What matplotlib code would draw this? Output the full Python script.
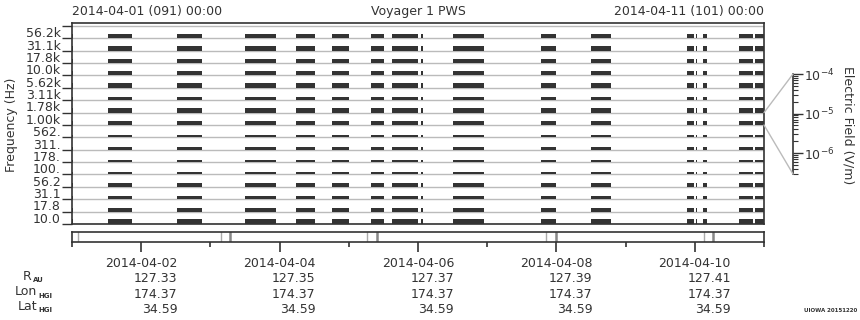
import matplotlib.pyplot as plt
import numpy as np
from matplotlib.patches import ConnectionPatch

# frequency channels, bottom to top
channels = ['10.0', '17.8', '31.1', '56.2', '100.', '178.', '311.', '562.',
            '1.00k', '1.78k', '3.11k', '5.62k', '10.0k', '17.8k', '31.1k', '56.2k']
# bar height per channel (fraction of a row)
levels = [0.40, 0.32, 0.30, 0.32, 0.22, 0.16, 0.22, 0.16,
          0.36, 0.36, 0.30, 0.36, 0.36, 0.36, 0.36, 0.36]

# data intervals, days after 2014-04-01 00:00
seg_start = [0.0, 0.52, 1.52, 2.50, 3.24, 3.76, 4.32, 4.62, 5.04, 5.51,
             6.78, 7.50, 8.89, 9.02, 9.12, 9.64, 9.87]
seg_end = [0.02, 0.87, 1.88, 2.95, 3.51, 4.00, 4.51, 5.00, 5.07, 5.95,
           6.99, 7.79, 8.99, 9.03, 9.18, 9.84, 10.0]

# marks in the bottom strip
strip_light = [0.09, 2.15, 4.26, 6.85, 9.13]
strip_dark = [2.28, 4.41, 6.99, 9.26]

tick_days = [1, 3, 5, 7, 9]
tick_dates = ['2014-04-02', '2014-04-04', '2014-04-06', '2014-04-08', '2014-04-10']
r_au = ['127.33', '127.35', '127.37', '127.39', '127.41']
lon_hgi = ['174.37', '174.37', '174.37', '174.37', '174.37']
lat_hgi = ['34.59', '34.59', '34.59', '34.59', '34.59']

W, H = 860, 320
ink = '#333333'
plt.rcParams['font.size'] = 9
plt.rcParams['text.color'] = ink
plt.rcParams['axes.edgecolor'] = ink
plt.rcParams['xtick.color'] = ink
plt.rcParams['ytick.color'] = ink

fig = plt.figure(figsize=(W / 100, H / 100), dpi=100)

def box(x0, y0, x1, y1):
    # pixel box (top-left origin) -> figure fraction rect
    return [x0 / W, 1 - y1 / H, (x1 - x0) / W, (y1 - y0) / H]

ax = fig.add_axes(box(72, 23, 764, 224))
n = len(channels)
ax.hlines(np.arange(n + 1), 0, 10, color='#bbbbbb', lw=1, zorder=1)
spans = [(s, e - s) for s, e in zip(seg_start, seg_end)]
for i in range(n):
    ax.broken_barh(spans, (i, levels[i]), facecolor=ink, edgecolor='none', zorder=2)
ax.set_xlim(0, 10)
ax.set_ylim(0, n + 3 / 12.4)
ax.set_xticks([])
ax.set_yticks(np.arange(n + 1))
ax.set_yticklabels([])
ax.set_yticks(np.arange(n) + 0.5, minor=True)
ax.set_yticklabels(channels, minor=True)
ax.tick_params(axis='y', which='major', length=7, width=1, direction='out')
ax.tick_params(axis='y', which='minor', length=0, pad=8, labelsize=9)
for sp in ax.spines.values():
    sp.set_linewidth(1.2)

fig.text(12 / W, 1 - 125 / H, 'Frequency (Hz)', rotation=90, ha='center', va='center')
fig.text(72 / W, 1 - 11 / H, '2014-04-01 (091) 00:00', ha='left', va='center')
fig.text(418 / W, 1 - 11 / H, 'Voyager 1 PWS', ha='center', va='center')
fig.text(764 / W, 1 - 11 / H, '2014-04-11 (101) 00:00', ha='right', va='center')

# bottom strip
st = fig.add_axes(box(72, 232, 764, 242))
for d in strip_light:
    st.axvline(d, color='#aaaaaa', lw=1)
for d in strip_dark:
    st.axvline(d, color='#888888', lw=1.8)
st.set_xlim(0, 10)
st.set_ylim(0, 1)
st.set_yticks([])
labels = [f'{d}\n{r}\n{lo}\n{la}' for d, r, lo, la in zip(tick_dates, r_au, lon_hgi, lat_hgi)]
st.set_xticks(tick_days, labels=labels)
st.set_xticks(np.arange(0, 11, 2), minor=True)
st.tick_params(axis='x', which='major', length=7, width=1.2, pad=4, labelsize=9)
st.tick_params(axis='x', which='minor', length=3.5, width=1.2)
for lbl in st.get_xticklabels():
    lbl.set_multialignment('right')
    lbl.set_linespacing(1.22)
for sp in st.spines.values():
    sp.set_linewidth(1.2)

# row names with tiny bold subscripts
for name, sub, xr, yb in [('R', 'AU', 32, 280), ('Lon', 'HGI', 37.5, 295), ('Lat', 'HGI', 37.5, 310)]:
    fig.text(xr / W, 1 - yb / H, name, ha='right', va='baseline')
    fig.text((xr + 1) / W, 1 - (yb + 2.5) / H, sub, ha='left', va='baseline',
             fontsize=5, fontweight='bold')

# electric field scale
cb = fig.add_axes(box(793, 74, 797, 174))
cb.set_yscale('log')
cb.set_ylim(10 ** -6.53, 1e-4)
cb.set_xticks([])
for k in ['top', 'right', 'bottom']:
    cb.spines[k].set_visible(False)
cb.spines['left'].set_linewidth(1.2)
cb.patch.set_alpha(0)
cb.tick_params(axis='y', which='both', direction='in', left=True, right=False,
               labelleft=False, labelright=True, labelsize=9, pad=5)
cb.tick_params(axis='y', which='major', length=7, width=1)
cb.tick_params(axis='y', which='minor', length=3.5, width=0.8)
fig.text(848 / W, 1 - 125 / H, 'Electric Field (V/m)', rotation=270, ha='center', va='center')

for ya, yb in [(9, 1), (8, 0)]:
    con = ConnectionPatch(xyA=(10, ya), coordsA='data', axesA=ax,
                          xyB=(0, yb), coordsB='axes fraction', axesB=cb,
                          color='#bbbbbb', lw=1)
    fig.add_artist(con)

fig.text(857 / W, 1 - 311 / H, 'UIOWA 20151220', ha='right', va='center',
         fontsize=4, fontweight='bold')

fig.savefig('out.png', dpi=100)
